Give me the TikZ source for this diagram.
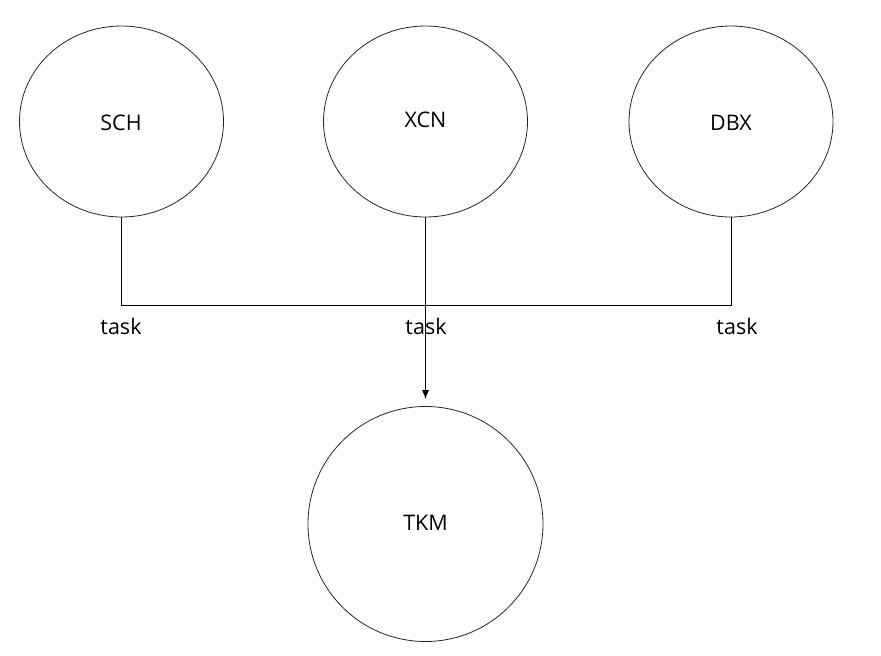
\documentclass[tikz,border=0pt]{standalone}
\usepackage{fontspec}
\setmainfont{Open Sans}
\usetikzlibrary{shapes.geometric,arrows.meta}
\begin{document}
\begin{tikzpicture}[x=1pt,y=-1pt,
  ell/.style={draw=black!85,line width=0.8pt,ellipse,minimum width=204pt,minimum height=191pt,inner sep=0pt},
  bigc/.style={draw=black!85,line width=0.8pt,circle,minimum size=235pt,inner sep=0pt},
  lbl/.style={font=\fontsize{21.5}{25}\selectfont,inner sep=0pt},
  wire/.style={draw=black,line width=0.9pt}]
\useasboundingbox (0,0) rectangle (881,656);
\node[ell] (sch) at (121.5,121.5) {};
\node[ell] (xcn) at (425.5,121.5) {};
\node[ell] (dbx) at (731,121.5) {};
\node[bigc] (tkm) at (425.5,524) {};
\node[lbl] (tsch) at (121,123) {SCH};
\node[lbl] (txcn) at (425.5,120) {XCN};
\node[lbl] (tdbx) at (731,123) {DBX};
\node[lbl] (ttkm) at (425.5,523) {TKM};
\coordinate (j1) at (121.5,305);
\coordinate (j2) at (731,305);
\draw[wire] (sch.south) -- (j1) -- (j2) -- (dbx.south);
\draw[wire,-{Latex[length=9pt,width=7pt]},shorten >=7pt] (xcn.south) -- (tkm.north);
\node[lbl] (l1) at (121,326) {task};
\node[lbl] (l2) at (426,326) {task};
\node[lbl] (l3) at (737,326) {task};
\end{tikzpicture}
\end{document}
